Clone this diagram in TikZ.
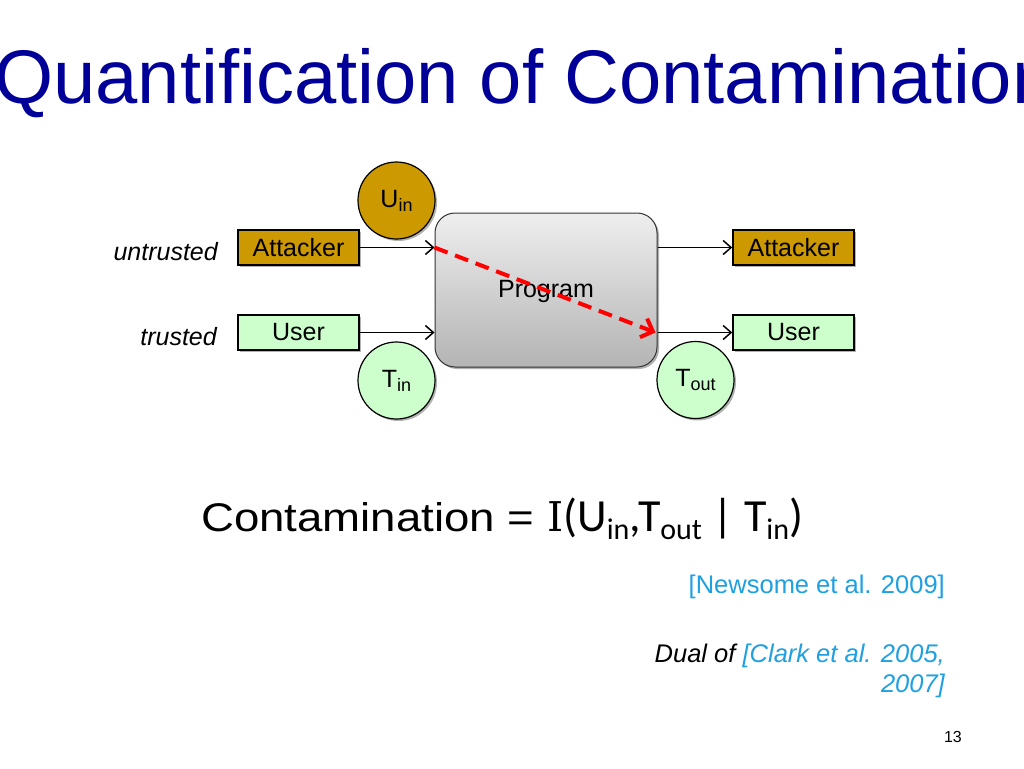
\documentclass[tikz,border=0pt]{standalone}
\usepackage{fontspec}
\setmainfont{Liberation Sans}
\newfontfamily\formfont[FakeStretch=1.14]{Liberation Sans}
\newfontfamily\califont{Carlito}
\newfontfamily\serifI{DejaVu Serif}
\usetikzlibrary{arrows.meta,shadows}
\newcommand\fsz[1]{\fontsize{#1pt}{#1pt}\selectfont}
\definecolor{gold}{RGB}{204,153,0}
\definecolor{mint}{RGB}{204,255,204}
\definecolor{titleblue}{RGB}{0,0,153}
\definecolor{citeblue}{RGB}{30,160,225}
\definecolor{progtop}{RGB}{238,238,238}
\definecolor{progbot}{RGB}{180,180,180}
\begin{document}
\begin{tikzpicture}[x=1pt,y=-1pt,
  shad/.style={drop shadow={shadow xshift=2pt,shadow yshift=-2pt,opacity=0.3,fill=black}},
  box/.style={draw=black,line width=1.5pt,minimum width=121pt,minimum height=35pt,inner sep=0pt,font=\fsz{25},shad},
  circ/.style={circle,draw=black,line width=1.2pt,minimum size=77pt,inner sep=0pt,font=\fsz{25},shad},
  progbox/.style={rounded corners=20pt,draw=black!80,line width=1pt,top color=progtop,bottom color=progbot,minimum width=222pt,minimum height=154pt,inner sep=0pt,shad},
  arr/.style={line width=1.5pt,-{Straight Barb[length=8pt,width=14pt,line width=1.5pt]}},
  redarr/.style={red,line width=4pt,dash pattern=on 14pt off 8pt,-{Straight Barb[length=10pt,width=20pt,line width=4pt]}},
  lbl/.style={inner sep=0pt,font=\fsz{25}\itshape}
]
\useasboundingbox (0,0) rectangle (1024,768);
\fill[white] (0,0) rectangle (1024,768);

% title
\node[anchor=base west,inner sep=0pt,text=titleblue,font=\fsz{76}] (title) at (-6,103) {Quantification of Contamination};

% program
\node[progbox] (prog) at (546,290) {};
\node[inner sep=0pt,font=\fsz{25}] (progtxt) at (546,291) {Program};

% boxes
\node[box,fill=gold] (attL) at (298.5,247.5) {Attacker};
\node[box,fill=mint] (userL) at (298.5,332.5) {User};
\node[box,fill=gold] (attR) at (793.5,247.5) {Attacker};
\node[box,fill=mint] (userR) at (793.5,332.5) {User};

% side labels
\node[lbl,anchor=base east] (untr) at (218,260) {untrusted};
\node[lbl,anchor=base east] (tr) at (217,345) {trusted};

% arrows
\draw[arr] (attL.east) -- (attL.east -| prog.west);
\draw[arr] (userL.east) -- (userL.east -| prog.west);
\draw[arr] (attR.west -| prog.east) -- (attR.west);
\draw[arr] (userR.west -| prog.east) -- (userR.west);

% circles
\node[circ,fill=gold] (uin) at (396.5,200.5) {U\raisebox{-4pt}{\fsz{18}in}};
\node[circ,fill=mint] (tin) at (396.5,380.5) {T\raisebox{-4pt}{\fsz{18}in}};
\node[circ,fill=mint] (tout) at (695.5,380) {T\raisebox{-4pt}{\fsz{18}out}};

% red contamination flow
\coordinate (rs) at (attL.east -| prog.west);
\coordinate (re) at (userL.east -| prog.east);
\draw[redarr] (rs) -- ([xshift=-2pt]re);

% formula
\node[anchor=base west,inner sep=0pt] (formula) at (201,531) {{\formfont\fsz{40}Contamination = }{\serifI\fsz{41}I}{\califont\fsz{46}(U\raisebox{-8pt}{\fsz{30}in},T\raisebox{-8pt}{\fsz{30}out} | T\raisebox{-8pt}{\fsz{30}in})}};

% citations
\node[anchor=base east,inner sep=0pt,text=citeblue,font=\fsz{25.5}] (cite1) at (945,593) {[Newsome et al. 2009]};
\node[anchor=base east,inner sep=0pt,font=\fsz{25.5}\itshape] (cite2) at (945,662) {Dual of \textcolor{citeblue}{[Clark et al. 2005,}};
\node[anchor=base east,inner sep=0pt,font=\fsz{25.5}\itshape,text=citeblue] (cite3) at (945,692) {2007]};

% page number
\node[anchor=base east,inner sep=0pt,font=\fsz{16}] (pnum) at (962,742) {13};
\end{tikzpicture}
\end{document}
